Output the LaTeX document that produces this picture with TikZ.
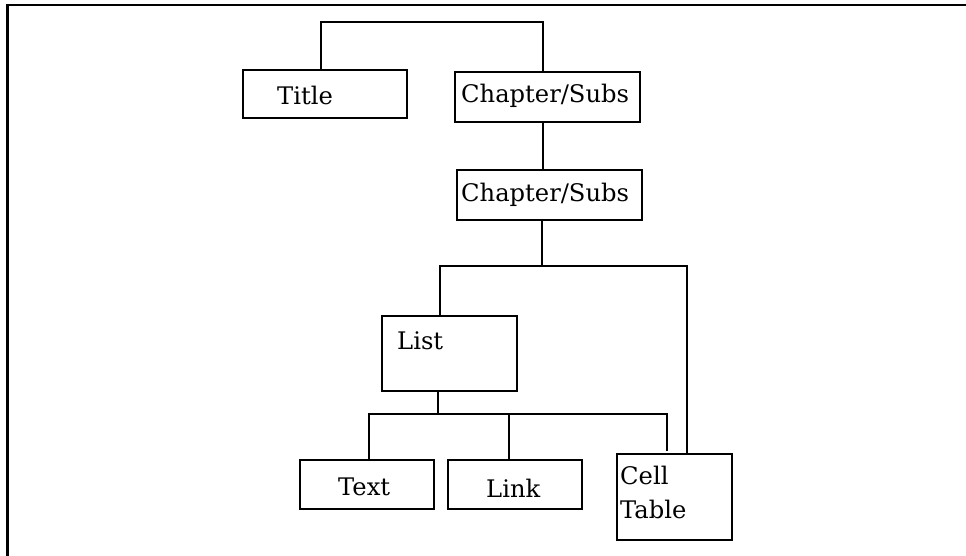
\documentclass[tikz,border=0pt]{standalone}
\usepackage{fontspec}
\setmainfont{DejaVu Serif}
\begin{document}
\begin{tikzpicture}[x=1pt,y=-1pt,
  box/.style={draw,line width=2.8pt,inner sep=0pt,minimum width=#1},
  lbl/.style={inner sep=0pt,anchor=base west,font=\fontsize{24.2}{28}\selectfont},
  wire/.style={line width=2.8pt,line join=miter}]
\useasboundingbox (0,0) rectangle (966,556);

% outer frame (only its top and left sides fall on the page)
\draw[line width=2.8pt] (7.7,556) -- (7.7,5) -- (966,5);

% boxes: centre at ((x1+x2)/2,(y1+y2)/2), size (x2-x1) x (y2-y1)
\node[box=164pt,minimum height=48pt] (title) at (325,94) {};
\node[box=185pt,minimum height=50pt] (ch1)   at (547.5,97) {};
\node[box=185pt,minimum height=50pt] (ch2)   at (549.5,195) {};
\node[box=135pt,minimum height=75pt] (list)  at (449.5,353.5) {};
\node[box=134pt,minimum height=49pt] (text)  at (367,484.5) {};
\node[box=134pt,minimum height=49pt] (link)  at (515,484.5) {};
\node[box=115pt,minimum height=86pt] (cell)  at (674.5,497) {};

% labels
\node[lbl] (tTitle) at (277,105) {Title};
\node[lbl] (tCh1)   at (461,103) {Chapter/Subs};
\node[lbl] (tCh2)   at (461,202) {Chapter/Subs};
\node[lbl] (tList)  at (397,349) {List};
\node[lbl] (tText)  at (338,495) {Text};
\node[lbl] (tLink)  at (486,497) {Link};
\node[lbl] (tCell)  at (620,484) {Cell};
\node[lbl] (tTable) at (620,518) {Table};

% junction points of the tree
\coordinate (jTop1) at (321,22);
\coordinate (jTop2) at (543,22);
\coordinate (jMidL) at (440,266);
\coordinate (jMidC) at (542,266);
\coordinate (jMidR) at (687,266);
\coordinate (jLowL) at (369,414);
\coordinate (jLowC) at (438,414);
\coordinate (jLowM) at (509,414);
\coordinate (jLowR) at (667,414);

% connectors
\draw[wire] (title.north -| jTop1) -- (jTop1) -- (jTop2) -- (ch1.north -| jTop2);
\draw[wire] (ch1.south -| jTop2) -- (ch2.north -| jTop2);
\draw[wire] (ch2.south -| jMidC) -- (jMidC);
\draw[wire] (list.north -| jMidL) -- (jMidL) -- (jMidR) -- (cell.north -| jMidR);
\draw[wire] (list.south -| jLowC) -- (jLowC);
\draw[wire] (text.north -| jLowL) -- (jLowL) -- (jLowR) -- ([yshift=2pt]cell.north -| jLowR);
\draw[wire] (jLowM) -- (link.north -| jLowM);
\end{tikzpicture}
\end{document}
